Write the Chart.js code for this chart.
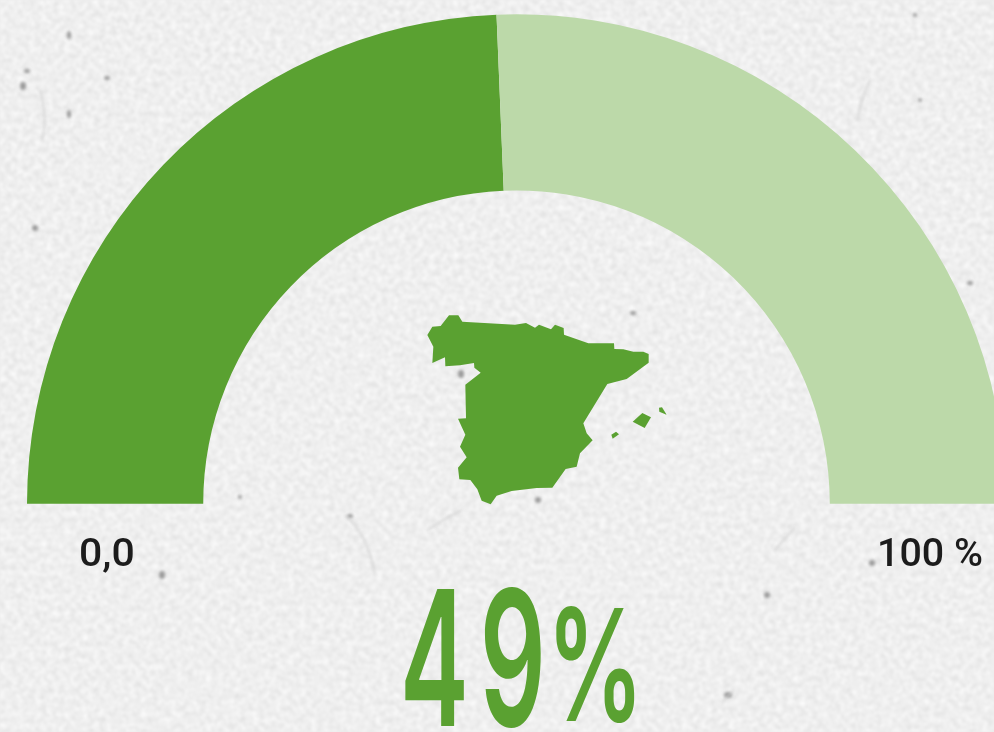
<!DOCTYPE html>
<html><head><meta charset="utf-8">
<script src="https://cdn.jsdelivr.net/npm/chart.js@4"></script>
<style>
html,body{margin:0;padding:0;width:994px;height:732px;overflow:hidden;background:#eee}
#stage{position:relative;width:994px;height:732px;overflow:hidden}
#paper,#map{position:absolute;left:0;top:0}
#map{left:400px;top:300px}
#wrap{position:absolute;left:27px;top:14px;width:979px;height:490px}
.lbl{position:absolute;font-family:Roboto,sans-serif;font-weight:500;font-size:39px;line-height:44px;color:#1c1c1c;white-space:nowrap;transform-origin:0 0}
.big{position:absolute;font-family:Inter,sans-serif;font-weight:600;color:#5aa131;white-space:nowrap;transform-origin:0 0}
</style></head><body>
<div id="stage">
<svg id="paper" width="994" height="732">
<defs>
<filter id="grain" x="0" y="0" width="100%" height="100%" color-interpolation-filters="sRGB">
<feTurbulence type="fractalNoise" baseFrequency="0.17" numOctaves="4" seed="7"/>
<feColorMatrix type="matrix" values="0.13 0 0 0 0.872  0.13 0 0 0 0.872  0.13 0 0 0 0.872  0 0 0 0 1"/>
<feGaussianBlur stdDeviation="1"/>
</filter>
<filter id="soft" x="-20%" y="-20%" width="140%" height="140%"><feGaussianBlur stdDeviation="1.4"/></filter>
</defs>
<rect width="994" height="732" filter="url(#grain)"/>
<g id="specks" filter="url(#soft)" fill="#9a9a9a"></g>
<g fill="none" stroke="#d0d0d0" stroke-width="1.5" filter="url(#soft)">
<path d="M345 515 Q368 535 375 575"/><path d="M428 530 Q445 518 462 510"/><path d="M775 550 Q785 538 795 528"/><path d="M722 702 L734 690"/><path d="M40 90 Q48 120 42 140"/><path d="M870 80 Q860 100 858 120"/>
</g>
</svg>
<div id="wrap"><canvas id="c" width="979" height="490"></canvas></div>
<svg id="map" width="290" height="220" viewBox="0 0 870 660" fill="#5aa131">
<polygon points="82,105 97,80 122,78 147,46 175,46 187,65 345,74 378,69 405,83 417,74 453,88 465,74 491,84 492,104 565,130 642,130 643,147 670,148 700,155 730,155 746,162 746,188 680,237 622,252 550,370 560,400 578,421 540,460 530,500 497,507 457,563 410,564 335,573 290,587 272,613 245,602 232,568 211,540 178,538 174,503 200,472 180,440 196,404 174,356 198,355 196,254 242,218 223,203 222,189 180,196 136,199 135,172 97,189 100,140"/>
<polygon points="698,365 727,339 753,352 734,384"/>
<polygon points="777,323 786,322 800,344 778,335"/>
<polygon points="634,404 648,395 657,403 638,416"/>
</svg>
<div class="lbl" id="lo" style="left:79px;top:531px;transform:scaleX(1.05)"></div>
<div class="lbl" id="hi" style="left:877px;top:531px;transform:scaleX(1.01)"></div>
<div class="big" id="num" style="left:400px;top:545px;font-size:188px;line-height:226px;letter-spacing:20px;transform:scaleX(.55)"></div>
<div class="big" id="pct" style="left:547px;top:572px;font-size:155px;line-height:186px;transform:scaleX(.62)"></div>
</div>
<script>
const categories = ['Sí', 'Resto'];
const seriesValues = [48.7, 51.3];
const sliceColors = ['#5aa131', '#bcd9a9'];
const tickLabels = ['0,0', '100 %'];
const centerValue = '49';
const centerUnit = '%';
const speckSpots = [[69,35,2,4],[27,71,3,2],[23,86,3,4],[107,78,3,2],[69,114,2,4],[35,228,3,3],[162,575,3,4],[767,595,3,3],[728,695,4,3],[872,563,3,3],[461,374,3,4],[538,500,3,3],[633,313,3,2],[240,497,2,2],[350,516,3,2],[920,100,2,2],[915,15,2,2],[970,283,3,2],[668,180,2,2]];

const ns = 'http://www.w3.org/2000/svg';
const specks = document.getElementById('specks');
speckSpots.forEach(s => {
  const e = document.createElementNS(ns, 'ellipse');
  e.setAttribute('cx', s[0]); e.setAttribute('cy', s[1]);
  e.setAttribute('rx', s[2]); e.setAttribute('ry', s[3]);
  specks.appendChild(e);
});
document.getElementById('lo').textContent = tickLabels[0];
document.getElementById('hi').textContent = tickLabels[1];
document.getElementById('num').textContent = centerValue;
document.getElementById('pct').textContent = centerUnit;

new Chart(document.getElementById('c'), {
  type: 'doughnut',
  data: { labels: categories, datasets: [{ data: seriesValues, backgroundColor: sliceColors, borderWidth: 0, hoverOffset: 0 }] },
  options: {
    responsive: false, animation: false, rotation: -90, circumference: 180, cutout: '64%',
    layout: { padding: 0 },
    plugins: { legend: { display: false }, tooltip: { enabled: false }, title: { display: false } }
  }
});
</script>
</body></html>
